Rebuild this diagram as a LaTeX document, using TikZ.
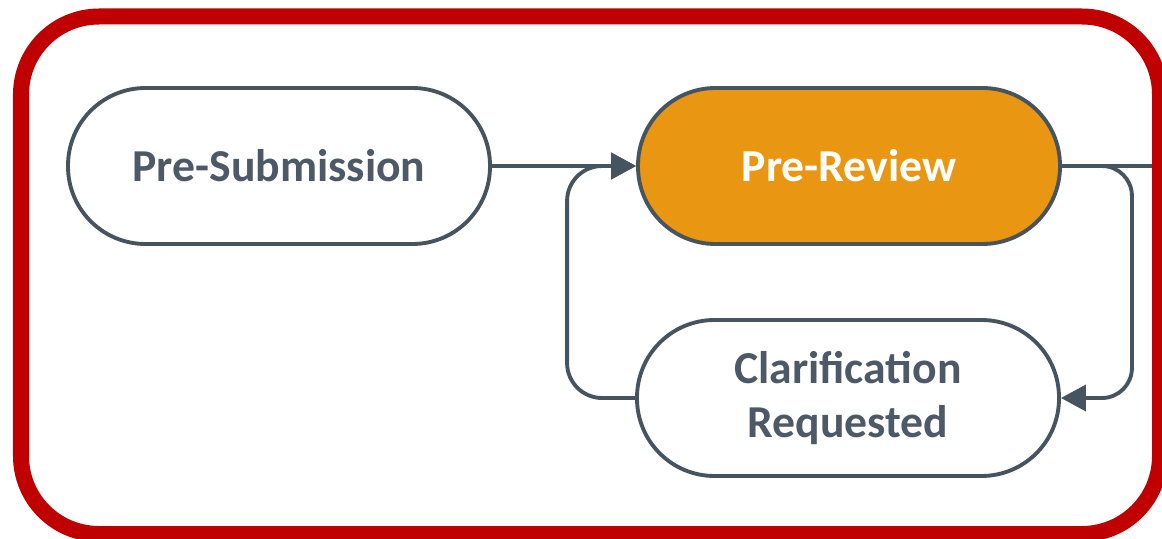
\documentclass[tikz,border=0pt]{standalone}
\usepackage{fontspec}
\setmainfont{Carlito}
\usepackage{tikz}
\usetikzlibrary{arrows.meta}
\definecolor{slate}{RGB}{70,84,96}
\definecolor{stagetext}{RGB}{77,89,102}
\definecolor{amber}{RGB}{233,150,18}
\definecolor{framered}{RGB}{192,0,0}

\begin{document}
\begin{tikzpicture}[
        stage/.style={draw=slate, line width=2.2pt, rounded corners=1.55cm, minimum width=8.44cm, minimum height=3.12cm,
            align=center, text=stagetext, font=\bfseries\fontsize{26}{31}\selectfont},
        flow/.style={draw=slate, line width=2.2pt},
        tip/.style={-{Triangle[length=0.5cm, width=0.52cm]}}
    ]
        \useasboundingbox (0,0) rectangle (23.24,10.76);
        \clip (0,0) rectangle (23.24,10.76);

        \node[stage] (presub) at (5.58,7.44) {Pre-Submission};
        \node[stage, fill=amber, text=white] (prerev) at (16.98,7.44) {Pre-Review};
        \node[stage] (clar) at (16.96,2.80) {Clarification\\Requested};
        \coordinate (exit) at (23.6,7.44);

        \draw[flow, tip] (presub.east) -- (prerev.west);
        \draw[flow, tip, rounded corners=0.7cm] (clar.west) -- ++(-1.36,0) |- (prerev.west);
        \draw[flow] (prerev.east) -- (exit);
        \draw[flow, tip, rounded corners=0.6cm] (prerev.east) -- ++(1.4,0) |- (clar.east);

        \draw[color=framered, line width=0.32cm, rounded corners=1.56cm] (0.42,0.08) rectangle (23.2,10.43);
    \end{tikzpicture}
\end{document}
